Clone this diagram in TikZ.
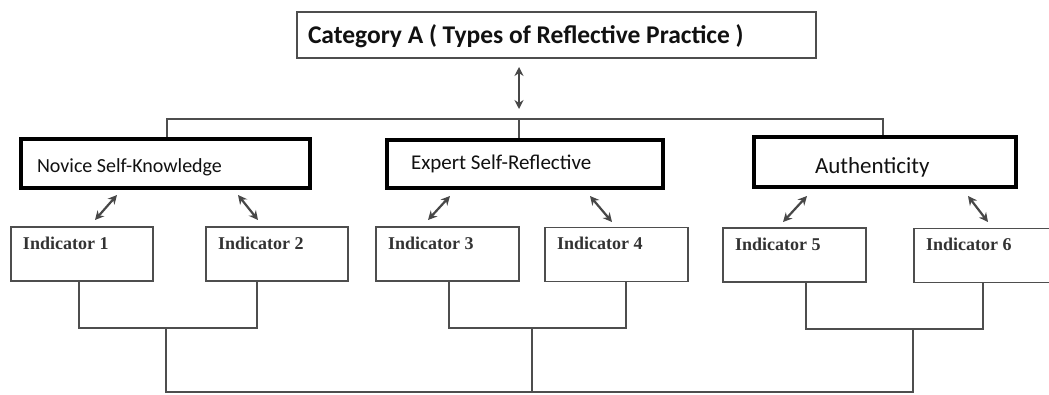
\documentclass[tikz,border=0pt]{standalone}
\usepackage{fontspec}
\newfontfamily\calfont{Carlito}
\newfontfamily\serfont{Liberation Serif}
\usetikzlibrary{arrows.meta}
\definecolor{linegray}{HTML}{4E4E4E}
\definecolor{arrowgray}{HTML}{474747}
\definecolor{indtext}{HTML}{333333}
\definecolor{maintext}{HTML}{111111}
\begin{document}
\begin{tikzpicture}[x=1pt,y=-1pt,
  topbox/.style={draw=linegray, line width=1.3pt, inner ysep=0pt, align=flush left,
    font=\calfont\bfseries\fontsize{25.5}{30}\selectfont, text=maintext},
  thickbox/.style={draw=black, line width=4pt, inner ysep=0pt, align=flush left, text=maintext},
  indbox/.style={draw=linegray, line width=1.3pt, inner xsep=12pt, inner ysep=0pt,
    text height=22pt, text depth=32pt, align=flush left,
    font=\serfont\bfseries\fontsize{18}{22}\selectfont, text=indtext},
  link/.style={draw=linegray, line width=1.3pt},
  dbl/.style={draw=arrowgray, line width=2.2pt,
    {Stealth[length=9pt,width=9pt]}-{Stealth[length=9pt,width=9pt]}}
]
\useasboundingbox (0,0) rectangle (1049,394);
\fill[white] (0,0) rectangle (1049,394);
\clip (0,0) rectangle (1049,394);

% top box
\node[topbox, inner xsep=11pt, text width=497pt, text height=31pt, text depth=15pt]
  (top) at (556.5,35) {Category A ( Types of Reflective Practice )};

% second level
\node[thickbox, inner xsep=16pt, text width=257pt, text height=33pt, text depth=16pt,
  font=\calfont\fontsize{20}{24}\selectfont] (nov) at (165.5,163.5) {Novice Self-Knowledge};
\node[thickbox, inner xsep=24pt, text width=228pt, text height=29pt, text depth=19pt,
  font=\calfont\fontsize{21}{25}\selectfont] (exp) at (525,164) {Expert Self-Reflective};
\node[thickbox, inner xsep=61pt, text width=140pt, text height=36pt, text depth=14pt,
  font=\calfont\fontsize{23}{27}\selectfont] (aut) at (885,162) {Authenticity};

% indicators
\node[indbox, text width=118pt] (i1) at (82,254) {Indicator 1};
\node[indbox, text width=118pt] (i2) at (277,254) {Indicator 2};
\node[indbox, text width=119pt] (i3) at (447.5,254) {Indicator 3};
\node[indbox, text width=119pt] (i4) at (616.5,254.5) {Indicator 4};
\node[indbox, text width=119pt] (i5) at (794.5,255) {Indicator 5};
\node[indbox, text width=122pt] (i6) at (987,255.5) {Indicator 6};

% top arrow and bracket
\coordinate (a0s) at (519,67);
\coordinate (a0e) at (519,109);
\draw[dbl, line width=1.8pt] (a0s) -- (a0e);
\coordinate (h1) at (167,119);
\coordinate (h2) at (519,119);
\coordinate (h3) at (883,119);
\draw[link] (h1 |- nov.north) -- (h1) -- (h3) -- (h3 |- aut.north);
\draw[link] (h2) -- (h2 |- exp.north);

% diagonal arrows
\coordinate (d1a) at (95,220);  \coordinate (d1b) at (117,195);
\coordinate (d2a) at (238,195); \coordinate (d2b) at (258,220);
\coordinate (d3a) at (428,220); \coordinate (d3b) at (450,196);
\coordinate (d4a) at (590,196); \coordinate (d4b) at (612,222);
\coordinate (d5a) at (783,222); \coordinate (d5b) at (807,196);
\coordinate (d6a) at (968,196); \coordinate (d6b) at (988,222);
\draw[dbl] (d1a) -- (d1b);
\draw[dbl] (d2a) -- (d2b);
\draw[dbl] (d3a) -- (d3b);
\draw[dbl] (d4a) -- (d4b);
\draw[dbl] (d5a) -- (d5b);
\draw[dbl] (d6a) -- (d6b);

% bottom brackets
\coordinate (p1) at (166,328);
\coordinate (p2) at (532,328);
\coordinate (p3) at (913,329);
\coordinate (b1) at (166,392);
\coordinate (b2) at (532,392);
\coordinate (b3) at (913,392);
\draw[link] (i1.south -| 79,0) |- (p1) -| (i2.south -| 257,0);
\draw[link] (i3.south -| 449,0) |- (p2) -| (i4.south -| 626,0);
\draw[link] (i5.south -| 806,0) |- (p3) -| (i6.south -| 983,0);
\draw[link] (p1) -- (b1) -- (b3) -- (p3);
\draw[link] (p2) -- (b2);
\end{tikzpicture}
\end{document}
